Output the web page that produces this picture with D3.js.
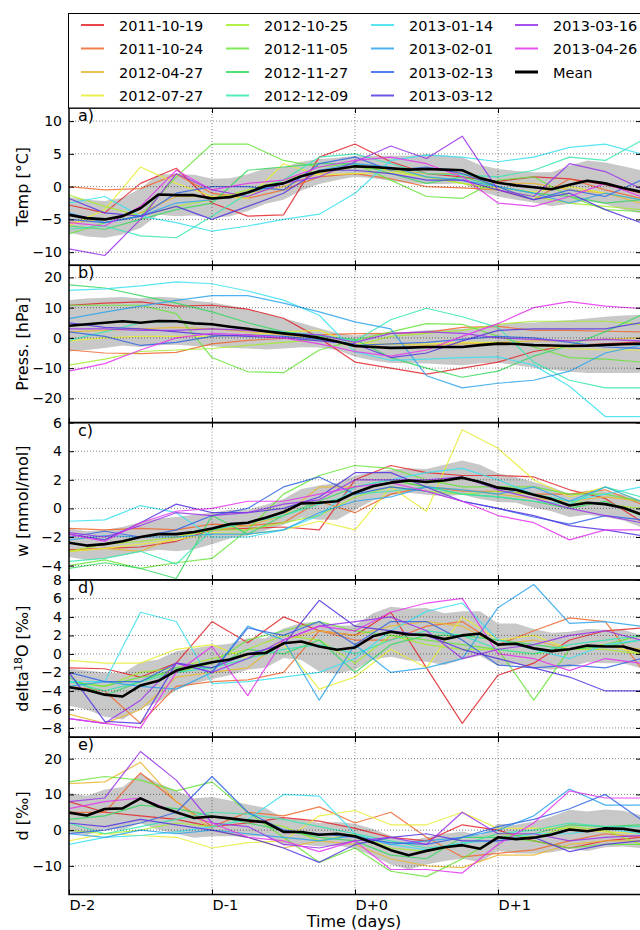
<!DOCTYPE html>
<html>
<head>
<meta charset="utf-8">
<script src="https://cdn.jsdelivr.net/npm/d3@7"></script>
<style>
  body { margin: 0; background: #fff; }
  svg { display: block; }
  text { font-family: "DejaVu Sans", sans-serif; }
</style>
</head>
<body>
<div class="container"></div>
<script>
// ---- data ----
const dates = ['2011-10-19','2011-10-24','2012-04-27','2012-07-27','2012-10-25','2012-11-05','2012-11-27',
               '2012-12-09','2013-01-14','2013-02-01','2013-02-13','2013-03-12','2013-03-16','2013-04-26'];

// time in days, individual cases every 6 h, mean / spread every 3 h
const tCase = [-2,-1.75,-1.5,-1.25,-1,-0.75,-0.5,-0.25,0,0.25,0.5,0.75,1,1.25,1.5,1.75,2];
const tMean = [-2,-1.875,-1.75,-1.625,-1.5,-1.375,-1.25,-1.125,-1,-0.875,-0.75,-0.625,-0.5,-0.375,-0.25,-0.125,
               0,0.125,0.25,0.375,0.5,0.625,0.75,0.875,1,1.125,1.25,1.375,1.5,1.625,1.75,1.875,2];

const dayTicks = [-2, -1, 0, 1];
const dayLabels = ['D-2', 'D-1', 'D+0', 'D+1'];

// a) temperature
const temp = [
  [-2.8,-4.0,0.5,2.8,-2.5,-4.5,-4.3,4.5,6.5,3.8,2.0,1.5,0.8,1.5,1.2,0.3,-1.0],
  [0,-0.5,-0.3,1.9,-1.0,-1.8,-0.5,1.5,2.0,1.2,0.0,-0.2,-0.5,-2.0,1.2,-0.5,-1.8],
  [-5.5,-5.0,-4.0,-1.5,-1.5,-1.0,0.0,2.0,3.0,2.5,2.0,2.0,0.5,0.5,-0.5,-1.0,-2.5],
  [-6.0,-3.5,3.0,0.5,-1.5,-1.8,3.5,1.8,2.0,2.2,1.5,0.5,-0.2,-0.8,0.0,-1.0,-2.0],
  [-1.3,-3.0,-4.5,-3.0,-2.0,-0.5,1.0,2.5,3.0,2.5,1.5,0.5,-0.5,-1.5,-2.5,-3.0,-3.5],
  [-7.2,-5.5,-4.5,1.5,6.5,6.5,4.0,3.0,3.5,1.0,-1.5,-1.8,1.0,1.5,-1.5,-3.5,-3.8],
  [-6.0,-6.5,-5.0,-3.5,-2.5,2.5,3.0,3.5,3.5,2.0,0.5,1.5,0.0,-1.0,-1.5,-2.5,-2.0],
  [-6.5,-6.0,-7.5,-7.8,-4.5,-1.0,1.0,4.5,5.0,3.5,2.0,1.8,1.5,2.5,4.5,4.0,7.0],
  [-2.5,-1.5,-4.5,-5.5,-6.8,-6.0,-5.0,-4.2,-1.0,4.0,4.8,4.5,3.8,4.5,6.0,6.5,5.0],
  [-4.0,-5.5,-4.5,-2.5,-2.0,-1.0,0.5,2.5,3.5,3.0,1.5,1.0,0.0,-1.0,-2.5,-1.0,-2.0],
  [-5.0,-5.5,-4.5,-1.0,0.0,0.0,-0.5,3.5,4.5,2.5,3.0,2.0,0.0,-2.0,-0.5,-1.5,1.0],
  [-1.8,-4.0,-4.5,-3.0,-5.0,-3.0,-1.0,2.5,2.5,2.0,1.0,1.0,-0.5,-2.0,-1.0,-3.5,-5.5],
  [-9.5,-10.5,-5.0,2.0,-0.5,-1.5,0.5,1.5,3.8,6.2,4.3,7.7,-0.5,-1.5,3.5,2.3,-0.3],
  [-5.5,-6.0,-3.0,2.5,-0.5,0.5,1.0,3.0,4.0,4.5,3.5,1.5,-2.5,-3.0,-1.5,0.5,-1.5]
];
const tempMean = [-4.3,-4.8,-5.0,-4.5,-3.3,-1.2,-1.3,-1.3,-1.8,-1.6,-0.9,0.1,0.5,1.6,2.3,2.7,
                  3.1,3.0,2.8,2.6,2.7,2.6,2.5,1.3,0.6,0.2,-0.1,-0.4,0.3,0.9,0.5,-0.2,-0.8];
const tempStd = [2.7,2.8,2.8,2.8,3.0,3.1,3.2,3.1,3.0,2.9,2.8,2.7,2.5,2.2,1.9,1.7,
                 1.6,1.7,1.9,2.1,2.3,2.2,2.0,2.0,2.1,2.2,2.3,2.6,2.9,3.1,3.2,3.3,3.3];
const tempTicks = [-10, -5, 0, 5, 10];

// b) pressure anomaly
const press = [
  [10.8,11.5,11.9,10.5,10.8,9.5,6.5,0.0,-8.0,-10.0,-12.0,-10.0,-8.0,-4.5,-2.5,-2.0,-1.3],
  [-4.0,-5.0,-5.2,-4.8,-2.0,-0.8,-0.2,1.0,1.4,1.5,1.8,3.5,3.8,2.5,2.5,2.2,2.0],
  [2.0,2.5,3.0,3.5,3.0,2.0,1.0,0.0,-3.0,-2.0,-2.5,-2.0,-1.5,-1.0,-1.0,-0.5,0.0],
  [-1.0,0.0,0.5,0.5,0.5,1.0,2.0,2.5,-2.0,-2.0,-2.0,-1.5,-1.5,-2.5,-3.5,-4.0,-4.0],
  [-9.0,-7.0,-4.5,-4.0,-3.5,-2.5,-1.5,-0.5,-2.5,0.5,1.5,2.5,4.5,5.5,5.5,5.5,4.5],
  [10.8,10.8,10.8,8.0,-6.5,-11.2,-11.5,-4.0,-0.8,2.0,4.7,4.5,0.5,-3.0,-6.5,-7.0,-8.0],
  [17.5,16.5,14.0,11.5,8.6,5.0,2.0,0.5,-0.5,-6.5,-10.0,-13.0,-11.0,-6.0,-2.5,2.0,7.5],
  [-0.8,2.0,5.0,5.5,4.5,3.0,2.0,1.0,-1.0,6.0,9.8,7.0,3.5,-8.0,-14.0,-16.5,-16.5],
  [15.7,16.2,17.2,18.5,17.9,15.5,12.5,7.5,-4.6,-7.4,-7.0,-6.5,-6.3,-9.0,-16.0,-26.0,-26.0],
  [6.4,8.5,10.5,12.4,14.0,14.0,11.5,8.6,5.3,3.0,-12.5,-16.5,-15.0,-14.0,-11.0,-5.0,-2.4],
  [2.0,0.5,-2.5,-1.5,0.5,1.0,0.5,-0.5,-2.5,-2.0,-1.5,-0.5,0.5,0.0,-1.5,-3.0,-3.5],
  [5.0,3.5,3.0,2.0,1.0,0.5,0.0,-1.0,-2.0,-6.5,-5.0,-1.0,2.5,3.0,3.0,3.0,5.0],
  [3.0,3.0,2.5,2.5,3.0,2.5,1.5,1.0,-1.5,1.5,2.0,1.5,0.0,-0.5,-1.0,-0.5,-1.0],
  [-11.0,-8.5,-4.0,0.0,1.5,1.0,0.0,-2.0,-4.5,-6.0,-4.0,0.5,4.7,10.0,12.0,10.5,9.7]
];
const pressMean = [4.0,4.5,5.0,5.5,5.0,5.6,5.5,4.8,4.5,3.7,3.0,2.2,1.5,0.9,0.0,-1.2,
                   -2.7,-3.0,-3.3,-3.2,-3.0,-3.0,-3.0,-2.4,-1.9,-2.0,-2.4,-2.5,-2.7,-2.6,-2.3,-2.1,-1.9];
const pressStd = [8.5,8.5,8.3,8.0,8.0,8.0,7.8,7.5,7.2,7.0,6.5,6.0,5.0,4.0,3.2,2.8,
                  3.5,4.5,5.0,5.2,5.5,5.8,6.0,6.0,6.3,7.0,7.5,8.0,8.5,9.0,9.3,9.5,9.6];
const pressTicks = [-20, -10, 0, 10, 20];

// c) humidity anomaly
const humid = [
  [-2.9,-2.8,-2.7,-2.3,-1.5,-1.4,-1.3,-1.5,2.0,3.0,2.5,2.3,2.3,2.2,1.3,0.7,-0.9],
  [-1.4,-1.5,-1.4,-1.5,-1.1,-1.2,-1.0,0.5,-0.3,1.0,1.5,1.2,1.2,1.0,1.0,1.3,0.3],
  [-3.0,-2.8,-3.0,-2.0,-1.5,-1.2,-0.5,1.5,1.5,2.0,1.5,1.3,1.0,0.7,0.5,0.8,0.5],
  [-3.0,-2.8,-2.5,-2.2,-1.7,-1.8,-1.5,-0.9,-1.5,1.5,-0.2,5.5,4.2,2.0,0.8,1.5,0.5],
  [-3.0,-2.5,-2.3,-2.0,-1.5,-1.5,-1.0,-0.5,0.8,1.5,1.2,1.0,1.2,1.0,0.5,0.3,0.0],
  [-4.0,-3.6,-4.2,-3.8,-3.5,-1.5,1.0,2.3,3.0,2.8,2.0,1.5,1.5,1.5,1.0,1.0,0.5],
  [-4.2,-3.8,-4.2,-4.9,-0.5,-1.8,-0.5,0.5,1.5,2.0,1.5,1.0,0.8,0.5,0.0,0.5,-0.5],
  [-3.7,-3.5,-3.0,-3.9,-1.5,-1.0,-0.5,0.3,1.0,1.2,1.5,1.0,0.8,0.5,0.3,1.5,0.8],
  [-0.9,-0.8,0.2,-0.3,-2.0,-2.0,-1.5,-0.5,1.5,2.0,2.5,2.8,2.0,1.0,0.5,1.0,1.5],
  [-2.2,-1.9,-2.0,-2.0,-1.8,-1.8,-1.5,-0.3,0.5,0.8,1.5,1.3,1.0,1.5,0.5,1.5,0.5],
  [-2.0,-1.6,-2.0,-1.5,-0.5,0.0,1.5,2.2,1.0,1.5,1.2,0.5,0.0,-0.6,-1.1,-0.5,-0.8],
  [-1.8,-2.2,-1.0,0.3,-0.3,-0.3,0.0,0.8,2.5,2.5,1.5,0.5,0.0,-0.5,-1.2,-1.5,-1.9],
  [-1.7,-2.0,-1.2,-0.3,-0.5,-0.3,0.3,0.6,2.0,2.0,2.0,2.2,1.3,0.7,0.0,-0.5,-1.0],
  [-1.8,-2.3,-1.0,-0.2,0.0,0.5,0.5,1.0,1.5,1.8,1.2,0.5,-0.5,-1.0,-2.2,-1.5,-1.5]
];
const humidMean = [-2.4,-2.6,-2.5,-2.3,-2.0,-1.8,-1.8,-1.65,-1.4,-1.1,-1.0,-0.65,-0.25,0.35,0.4,0.5,
                   1.1,1.55,1.8,1.95,1.85,1.95,2.15,1.85,1.45,1.3,0.95,0.65,0.2,0.4,0.3,0.05,-0.4];
const humidStd = [1.0,1.0,1.0,1.0,1.05,1.1,1.2,1.2,1.1,1.0,0.9,0.9,0.9,1.0,1.2,1.3,
                  1.2,1.0,0.9,0.85,0.9,1.1,1.2,1.2,1.0,0.9,0.9,0.85,0.8,0.85,0.9,0.9,0.9];
const humidTicks = [-4, -2, 0, 2, 4, 6];

// d) delta18O anomaly
const d18o = [
  [-1.5,-1.6,-2.5,-1.0,3.5,1.2,4.0,2.5,2.0,4.5,-1.5,-7.5,-2.3,-1.0,1.5,2.5,2.8],
  [-3.5,-4.0,-7.5,-3.5,-3.0,-2.8,-2.0,2.5,1.5,1.5,3.0,3.5,1.0,2.5,3.9,3.5,-1.5],
  [-6.5,-7.5,-6.0,-2.5,-2.0,-1.5,1.5,2.5,2.0,3.0,3.5,3.0,1.0,1.5,0.5,1.0,0.5],
  [-0.7,-1.0,-1.0,0.5,1.0,-0.5,1.0,-3.8,-2.5,0.5,-1.5,4.0,1.5,2.0,0.5,1.0,0.0],
  [-3.0,-3.5,-2.0,-1.5,-0.5,0.5,2.0,1.5,-1.0,2.0,1.0,0.5,0.5,0.0,0.5,0.5,0.0],
  [-3.0,-3.5,-2.5,-2.0,-1.0,1.5,2.5,3.5,2.5,2.0,1.5,1.0,0.5,-5.0,0.5,1.0,2.0],
  [-2.5,-4.5,-3.0,-1.5,-1.5,0.5,0.0,1.5,-2.0,1.0,2.0,2.0,1.5,1.0,0.5,0.8,1.5],
  [-3.0,-4.0,-3.0,-2.0,-1.5,-0.5,0.5,1.0,0.0,1.5,2.5,2.0,0.5,0.0,1.0,1.5,2.0],
  [-3.0,-3.0,4.5,3.5,-3.2,-3.0,-2.5,-2.0,-0.5,2.5,4.6,5.5,1.5,0.5,-0.5,1.0,1.5],
  [-3.5,-3.0,-3.5,-3.8,-2.0,3.0,1.5,-5.0,1.0,-2.0,-1.5,-0.5,5.0,7.5,3.3,3.5,3.0],
  [-2.0,-3.0,-3.0,-1.0,-2.0,2.8,2.0,3.5,1.0,3.5,3.5,1.5,-1.2,-1.5,-1.2,-1.5,-0.5],
  [-2.0,-7.3,-7.5,-1.0,-1.5,0.0,1.0,5.8,3.0,2.5,2.0,0.5,-0.5,-1.5,-2.5,-4.0,-4.0],
  [-7.0,-7.5,-5.0,-1.0,-2.0,-0.5,1.5,3.0,3.5,4.0,2.5,-0.5,0.5,1.0,2.0,2.5,1.5],
  [-7.0,-7.5,-8.0,-2.0,0.8,-4.5,1.5,3.0,2.5,4.5,5.5,6.0,0.0,-0.5,-1.8,-0.5,-1.0]
];
const d18oMean = [-3.6,-3.9,-4.4,-4.6,-3.4,-2.9,-1.8,-1.3,-0.9,-0.6,0.0,0.1,1.15,1.35,0.8,0.45,
                  0.7,1.9,2.4,2.1,2.05,1.6,2.0,2.2,1.0,1.1,0.6,0.3,0.5,0.9,0.8,0.8,0.25];
const d18oStd = [2.0,2.1,2.4,2.5,2.5,2.3,2.1,1.9,1.8,1.7,1.7,1.6,1.6,2.0,2.7,2.6,
                 2.4,2.5,2.7,2.8,2.9,2.8,2.6,2.4,2.3,2.2,2.1,2.0,1.9,1.8,1.8,1.8,1.8];
const d18oTicks = [-8, -6, -4, -2, 0, 2, 4, 6, 8];

// e) deuterium excess anomaly
const dexc = [
  [8.0,5.0,4.0,3.0,1.0,2.0,3.5,2.5,0.5,-2.0,-3.0,1.5,0.0,-3.0,-5.0,-3.0,-2.0],
  [5.0,5.0,16.0,8.0,1.0,5.0,4.0,6.5,2.0,5.0,-2.0,-7.5,-6.5,-5.5,-3.0,-1.0,-2.0],
  [13.0,13.5,19.0,8.0,0.0,-2.0,-5.0,-3.0,-4.0,-8.0,-10.0,-10.5,-7.0,-7.0,-4.0,-3.0,-3.0],
  [-3.0,-1.0,-1.5,-2.0,-5.0,-3.5,-3.0,4.0,5.5,1.5,1.5,5.0,0.5,0.5,0.5,-0.5,-1.0],
  [0.0,-1.0,0.0,2.0,1.0,3.0,1.0,-3.0,-1.0,-5.0,-6.0,-4.0,-1.0,-2.0,1.0,0.0,-4.0],
  [13.5,15.0,14.0,11.0,13.5,5.0,-2.0,-9.0,-5.0,-11.5,-13.0,-8.0,-2.0,-3.0,-5.0,-4.0,-4.0],
  [3.0,4.0,7.0,6.0,4.0,2.0,0.0,-2.0,-3.0,-7.0,-8.0,-2.0,-2.0,-1.0,1.5,1.0,1.5],
  [2.0,-1.0,1.0,3.0,5.0,4.5,3.0,1.0,-1.0,-3.0,-5.0,-4.0,-1.0,0.0,2.0,1.0,1.0],
  [-4.0,-2.0,-1.5,-0.5,1.0,3.0,10.0,9.5,-1.0,-4.0,-5.5,-3.5,-3.0,-1.0,-1.0,0.5,-1.0],
  [-1.0,-2.0,0.0,-1.0,0.0,-1.0,-2.0,-3.0,-1.5,-4.0,-3.0,-2.0,0.0,4.0,11.5,7.0,7.0],
  [-1.0,0.0,2.0,5.0,15.0,5.0,0.0,-1.0,-2.0,-3.5,-4.0,-2.0,1.0,3.0,6.0,10.0,3.0],
  [2.0,1.0,3.0,1.5,0.0,-2.0,-5.0,-9.0,-4.0,-2.0,-1.0,-3.0,-3.0,-2.0,-6.0,-4.0,-3.0],
  [8.0,9.0,22.0,14.0,2.0,1.0,-4.0,-5.0,-3.0,-2.0,-4.0,5.0,-1.0,-1.0,-3.0,-2.0,-1.5],
  [6.0,8.0,9.0,5.0,2.0,-2.0,-3.0,-6.0,-3.0,-11.0,-11.0,-12.0,-4.0,2.0,11.0,9.0,9.0]
];
const dexcMean = [4.9,4.1,5.9,6.1,8.9,6.6,5.0,3.4,3.8,3.3,2.7,2.2,-0.5,-0.5,-1.3,-1.0,
                  -1.7,-3.5,-5.6,-7.0,-5.8,-4.8,-4.2,-5.2,-2.0,-2.5,-2.1,-1.2,0.2,-0.3,0.5,0.4,-0.4];
const dexcStd = [5.5,5.5,5.5,6.0,7.0,6.5,6.0,5.5,5.5,5.0,4.5,4.0,3.8,3.5,3.3,3.3,
                 3.5,3.8,4.0,4.0,3.8,3.8,3.8,3.8,3.8,4.0,4.5,5.0,5.5,5.5,5.3,5.0,4.6];
const dexcTicks = [-10, 0, 10, 20];

// ---- styles / layout ----
const colors = ['#e3262b','#f0692e','#e8b832','#e6ec34','#a3ec2a','#68e43a','#38d862','#36e6b2',
                '#3ce0ee','#2ea4ec','#3366e4','#5634e0','#9a32ec','#e434ee'];

const w = 640, h = 930;
const left = 69, right = 641;
const top0 = 108, ph = 157.3;

const svg = d3.select('.container').append('svg')
              .attr('width', w)
              .attr('height', h);

const x = d3.scaleLinear().domain([-2, 2]).range([left, right]);

const panels = [
  {tag: 'a)', rows: temp,  mean: tempMean,  std: tempStd,  dom: [-12, 12], ticks: tempTicks,  label: ['Temp [°C]']},
  {tag: 'b)', rows: press, mean: pressMean, std: pressStd, dom: [-28, 24], ticks: pressTicks, label: ['Press. [hPa]']},
  {tag: 'c)', rows: humid, mean: humidMean, std: humidStd, dom: [-5, 6],   ticks: humidTicks, label: ['w [mmol/mol]']},
  {tag: 'd)', rows: d18o,  mean: d18oMean,  std: d18oStd,  dom: [-9, 8],   ticks: d18oTicks,  label: ['delta', '18', 'O [‰]']},
  {tag: 'e)', rows: dexc,  mean: dexcMean,  std: dexcStd,  dom: [-18, 26], ticks: dexcTicks,  label: ['d [‰]']}
];

panels.forEach((p, k) => {
  const y0 = top0 + k * ph;
  const y = d3.scaleLinear().domain(p.dom).range([y0 + ph, y0]);
  const g = svg.append('g');

  svg.append('clipPath').attr('id', 'clip' + k)
     .append('rect')
     .attr('x', left).attr('y', y0)
     .attr('width', right - left).attr('height', ph);

  const plot = g.append('g').attr('clip-path', `url(#clip${k})`);

  // spread band
  const band = d3.area()
    .x((d, i) => x(tMean[i]))
    .y0((d, i) => y(p.mean[i] - p.std[i]))
    .y1((d, i) => y(p.mean[i] + p.std[i]));
  plot.append('path').datum(p.mean)
      .attr('d', band)
      .attr('fill', '#c8c8c8');

  // single cases
  const line = d3.line()
    .defined(d => d != null)
    .x((d, i) => x(tCase[i]))
    .y(d => y(d));
  plot.selectAll('path.case')
      .data(p.rows)
      .join('path')
      .attr('class', 'case')
      .attr('d', line)
      .attr('fill', 'none')
      .attr('stroke', (d, i) => colors[i])
      .attr('stroke-opacity', 0.85)
      .attr('stroke-width', 1.2)
      .attr('stroke-linejoin', 'round');

  // mean
  const meanLine = d3.line().x((d, i) => x(tMean[i])).y(d => y(d));
  plot.append('path').datum(p.mean)
      .attr('d', meanLine)
      .attr('fill', 'none')
      .attr('stroke', '#000')
      .attr('stroke-width', 2.6)
      .attr('stroke-linejoin', 'round');

  // grid
  const hg = p.ticks.filter(v => y(v) > y0 + 1 && y(v) < y0 + ph - 1);
  g.selectAll('line.hg').data(hg).join('line')
   .attr('x1', left).attr('x2', right)
   .attr('y1', d => y(d)).attr('y2', d => y(d));
  g.selectAll('line.vg').data(dayTicks.slice(1)).join('line')
   .attr('x1', d => x(d)).attr('x2', d => x(d))
   .attr('y1', y0).attr('y2', y0 + ph);
  g.selectAll('line')
   .attr('stroke', '#000')
   .attr('stroke-opacity', 0.6)
   .attr('stroke-width', 0.8)
   .attr('stroke-dasharray', '1,2');

  // axes, ticks inside
  const yAxis = g.append('g')
    .attr('transform', `translate(${left},0)`)
    .call(d3.axisLeft(y).tickValues(p.ticks).tickSizeInner(-5).tickSizeOuter(0).tickPadding(7));
  yAxis.select('.domain').remove();
  yAxis.selectAll('text').attr('font-size', 14).attr('fill', '#000')
       .attr('font-family', '"DejaVu Sans", sans-serif');

  const yRight = g.append('g')
    .attr('transform', `translate(${right},0)`)
    .call(d3.axisRight(y).tickValues(p.ticks).tickSizeInner(-5).tickSizeOuter(0).tickFormat(''));
  yRight.select('.domain').remove();

  const xTop = g.append('g')
    .attr('transform', `translate(0,${y0})`)
    .call(d3.axisTop(x).tickValues(dayTicks.slice(1)).tickSizeInner(-5).tickSizeOuter(0).tickFormat(''));
  xTop.select('.domain').remove();

  const xBottom = g.append('g')
    .attr('transform', `translate(0,${y0 + ph})`)
    .call(d3.axisBottom(x).tickValues(dayTicks).tickSizeInner(-5).tickSizeOuter(0).tickPadding(5)
            .tickFormat(k === panels.length - 1 ? (d, i) => dayLabels[i] : ''));
  xBottom.select('.domain').remove();
  xBottom.selectAll('text')
         .attr('text-anchor', 'start')
         .attr('font-size', 14.5).attr('fill', '#000')
         .attr('font-family', '"DejaVu Sans", sans-serif');

  g.selectAll('.tick line').attr('stroke', '#000').attr('stroke-width', 1);

  // frame
  g.append('rect')
   .attr('x', left).attr('y', y0)
   .attr('width', right - left).attr('height', ph)
   .attr('fill', 'none')
   .attr('stroke', '#000')
   .attr('stroke-width', 1.5);

  // panel tag
  g.append('text')
   .attr('x', 78).attr('y', y0 + 13)
   .attr('font-size', 16)
   .text(p.tag);

  // y label
  const lab = g.append('text')
    .attr('transform', `translate(28,${y0 + ph / 2}) rotate(-90)`)
    .attr('text-anchor', 'middle')
    .attr('font-size', 16);
  if (p.label.length === 1) {
    lab.text(p.label[0]);
  } else {
    lab.append('tspan').text(p.label[0]);
    lab.append('tspan').text(p.label[1]).attr('font-size', 11).attr('dy', -6);
    lab.append('tspan').text(p.label[2]).attr('dy', 6);
  }
});

// x label
svg.append('text')
   .attr('x', (left + right) / 2 - 1).attr('y', 927)
   .attr('text-anchor', 'middle')
   .attr('font-size', 16)
   .text('Time (days)');

// legend
const legendItems = dates.concat(['Mean']);
const colX = [119, 264, 409, 553];
const rowY = [25, 48.5, 72, 95.5];

const legend = svg.append('g');
legend.append('rect')
      .attr('x', 68.5).attr('y', 13.5)
      .attr('width', 590).attr('height', 94.5)
      .attr('fill', '#fff')
      .attr('stroke', '#000')
      .attr('stroke-width', 1);

const items = legend.selectAll('g.item')
  .data(legendItems)
  .join('g')
  .attr('class', 'item')
  .attr('transform', (d, i) => `translate(${colX[Math.floor(i / 4)]},${rowY[i % 4]})`);

items.append('line')
     .attr('x1', -38).attr('x2', -15)
     .attr('stroke', (d, i) => i < dates.length ? colors[i] : '#000')
     .attr('stroke-opacity', (d, i) => i < dates.length ? 0.85 : 1)
     .attr('stroke-width', (d, i) => i < dates.length ? 2 : 3);

items.append('text')
     .attr('x', 0).attr('y', 5.5)
     .attr('font-size', 14.5)
     .text(d => d);
</script>
</body>
</html>
